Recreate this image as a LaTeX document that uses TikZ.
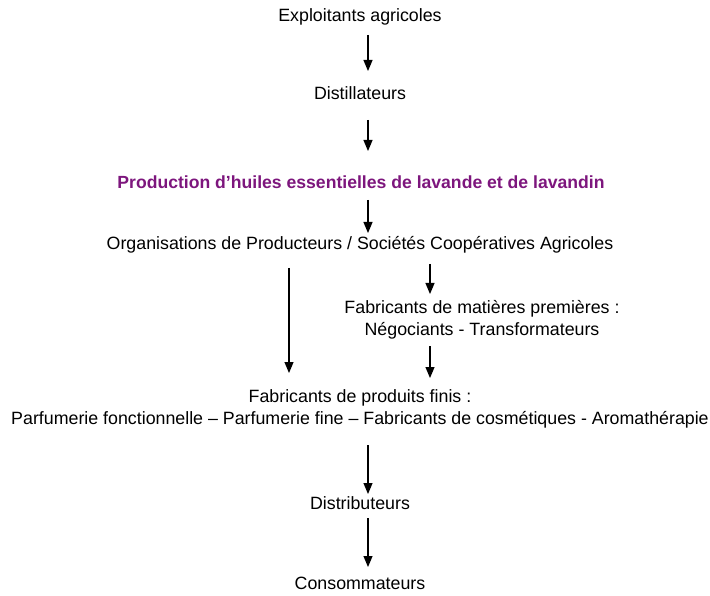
\documentclass[tikz,border=0pt]{standalone}
\usepackage{fontspec}
\setmainfont{Liberation Sans}
\usetikzlibrary{arrows.meta}
\definecolor{lavpurple}{RGB}{125,22,125}
\tikzset{
  lbl/.style={inner sep=0pt, align=center, font=\fontsize{17.8}{22}\selectfont},
  arr/.style={line width=1.2pt, -{Triangle[length=11pt,width=9pt]}}
}
\begin{document}
\begin{tikzpicture}[x=1pt,y=-1pt]
\useasboundingbox (0,0) rectangle (710,596);
\node[lbl] (exp) at (360,17) {Exploitants agricoles};
\node[lbl] (dist) at (360,93) {Distillateurs};
\node[lbl, font=\fontsize{17.6}{22}\selectfont\bfseries, text=lavpurple] (prod) at (361,182) {Production d’huiles essentielles de lavande et de lavandin};
\node[lbl] (org) at (360,245) {Organisations de Producteurs / Sociétés Coopératives Agricoles};
\node[lbl] (mat) at (482,320) {Fabricants de matières premières :\\Négociants - Transformateurs};
\node[lbl] (fin) at (360,409) {Fabricants de produits finis :\\Parfumerie fonctionnelle – Parfumerie fine – Fabricants de cosmétiques - Aromathérapie};
\node[lbl] (distr) at (360,503) {Distributeurs};
\node[lbl] (cons) at (360,583) {Consommateurs};
\coordinate (a1s) at (368,35); \coordinate (a1e) at (368,71);
\coordinate (a2s) at (368,120); \coordinate (a2e) at (368,151);
\coordinate (a3s) at (368,200); \coordinate (a3e) at (368,233);
\coordinate (a4s) at (289,268); \coordinate (a4e) at (289,373);
\coordinate (a5s) at (430,264); \coordinate (a5e) at (430,294);
\coordinate (a6s) at (430,346); \coordinate (a6e) at (430,378);
\coordinate (a7s) at (368,445); \coordinate (a7e) at (368,494);
\coordinate (a8s) at (368,518); \coordinate (a8e) at (368,567);
\draw[arr] (a1s) -- (a1e);
\draw[arr] (a2s) -- (a2e);
\draw[arr] (a3s) -- (a3e);
\draw[arr] (a4s) -- (a4e);
\draw[arr] (a5s) -- (a5e);
\draw[arr] (a6s) -- (a6e);
\draw[arr] (a7s) -- (a7e);
\draw[arr] (a8s) -- (a8e);
\end{tikzpicture}
\end{document}
